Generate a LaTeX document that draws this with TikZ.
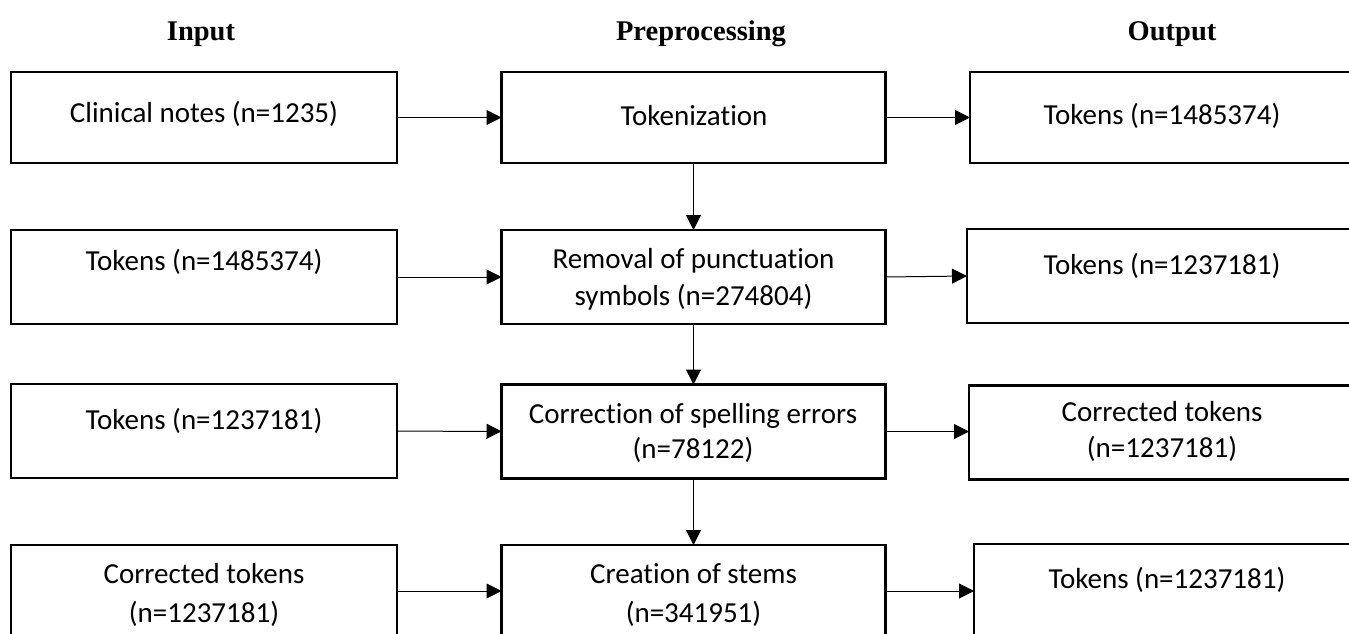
\documentclass[tikz,border=0pt]{standalone}
\usepackage{fontspec}
\setmainfont{Carlito}[Ligatures=CommonOff,RawFeature={-liga;-clig;-calt;-dlig}]
\newfontfamily\hdrfont{Liberation Serif}
\usetikzlibrary{arrows.meta}
\newcommand\brk{\kern0pt{}}
\begin{document}
\begin{tikzpicture}[x=1pt,y=-1pt,
  box/.style={draw, line width=2.6pt, minimum width=386pt, minimum height=93pt, inner sep=0pt, outer sep=0pt},
  midbox/.style={box, minimum width=384pt},
  txt/.style={anchor=base, inner sep=0pt, font=\fontsize{29}{35}\selectfont},
  hdr/.style={anchor=base, inner sep=0pt, font=\hdrfont\bfseries\fontsize{28.5}{34}\selectfont},
  arr/.style={line width=1pt, -{Triangle[length=15pt,width=15pt]}}]
\useasboundingbox (0,0) rectangle (1349,634);
\clip (0,0) rectangle (1349,634);
\fill[white] (0,0) rectangle (1349,634);
% headers
\node[hdr] (hin) at (201,41) {Input};
\node[hdr] (hpp) at (701,41) {Preprocessing};
\node[hdr] (hout) at (1172,41) {Output};
% row 1
\node[box, minimum height=91pt] (in1) at (204,117.5) {};
\node[midbox, minimum height=91pt] (pp1) at (693.5,117.5) {};
\node[box, minimum height=91pt] (out1) at (1163,117.5) {};
\node[txt] (in1t) at (204,122) {Clinical notes (n=1235)};
\node[txt] (pp1t) at (694,125) {Tokenizat\brk ion};
\node[txt] (out1t) at (1162,124) {Tokens (n=1485374)};
% row 2
\node[box, minimum height=94pt] (in2) at (204,277) {};
\node[midbox, minimum height=94pt] (pp2) at (693.5,277) {};
\node[box, minimum height=94pt] (out2) at (1160,276) {};
\node[txt] (in2t) at (204,270) {Tokens (n=1485374)};
\node[txt] (pp2ta) at (693.5,268) {Removal of punctuat\brk ion};
\node[txt] (pp2tb) at (693.5,305) {symbols (n=274804)};
\node[txt] (out2t) at (1162,274) {Tokens (n=1237181)};
% row 3
\node[box, minimum height=94pt] (in3) at (204,431) {};
\node[midbox, minimum height=94pt] (pp3) at (693.5,431.5) {};
\node[box, minimum height=94pt] (out3) at (1162,432.5) {};
\node[txt] (in3t) at (204,429) {Tokens (n=1237181)};
\node[txt] (pp3ta) at (693,423) {Correct\brk ion of spelling errors};
\node[txt] (pp3tb) at (693,458) {(n=78122)};
\node[txt] (out3ta) at (1162,421) {Corrected tokens};
\node[txt] (out3tb) at (1162,457) {(n=1237181)};
% row 4
\node[box, minimum height=92pt] (in4) at (204,591) {};
\node[midbox, minimum height=92pt] (pp4) at (693.5,591) {};
\node[box, minimum height=92pt] (out4) at (1167,590) {};
\node[txt] (in4ta) at (204,583) {Corrected tokens};
\node[txt] (in4tb) at (204,622) {(n=1237181)};
\node[txt] (pp4ta) at (693.5,583) {Creat\brk ion of stems};
\node[txt] (pp4tb) at (693.5,622) {(n=341951)};
\node[txt] (out4t) at (1167,588) {Tokens (n=1237181)};
% connectors
\draw[arr] (in1) -- (pp1);
\draw[arr] (pp1) -- (out1);
\draw[arr] (in2) -- (pp2);
\draw[arr] (pp2.east) -- (out2.west);
\draw[arr] (in3) -- (pp3);
\draw[arr] (pp3.east) -- (out3.west |- pp3.east);
\draw[arr] (in4) -- (pp4);
\draw[arr] (pp4.east) -- (out4.west |- pp4.east);
\draw[arr] (pp1) -- (pp2);
\draw[arr] (pp2) -- (pp3);
\draw[arr] (pp3) -- (pp4);
\end{tikzpicture}
\end{document}
